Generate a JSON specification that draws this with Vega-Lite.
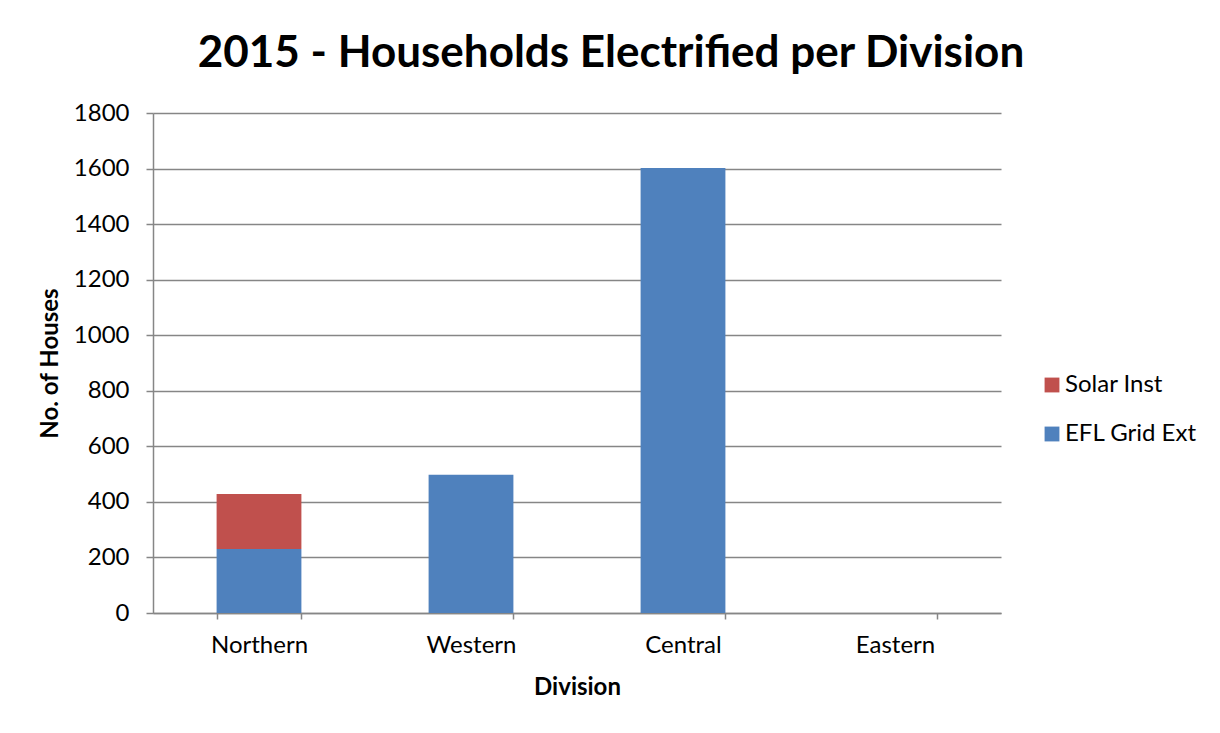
{
  "$schema": "https://vega.github.io/schema/vega-lite/v6.json",
  "width": 848,
  "height": 500,
  "autosize": {"type": "none"},
  "padding": {"left": 153, "top": 113, "right": 219, "bottom": 120},
  "background": "white",
  "title": {
    "text": "2015 - Households Electrified per Division",
    "font": "Lato",
    "fontSize": 44,
    "fontWeight": "bold",
    "color": "#000000",
    "anchor": "middle",
    "dx": 34,
    "offset": 25
  },
  "data": {
    "values": [
      {"division": "Northern", "type": "EFL Grid Ext", "houses": 230, "ord": 1},
      {"division": "Northern", "type": "Solar Inst", "houses": 198, "ord": 2},
      {"division": "Western", "type": "EFL Grid Ext", "houses": 498, "ord": 1},
      {"division": "Western", "type": "Solar Inst", "houses": 0, "ord": 2},
      {"division": "Central", "type": "EFL Grid Ext", "houses": 1602, "ord": 1},
      {"division": "Central", "type": "Solar Inst", "houses": 0, "ord": 2},
      {"division": "Eastern", "type": "EFL Grid Ext", "houses": 0, "ord": 1},
      {"division": "Eastern", "type": "Solar Inst", "houses": 0, "ord": 2}
    ]
  },
  "mark": {"type": "bar"},
  "encoding": {
    "x": {
      "field": "division",
      "type": "nominal",
      "sort": ["Northern", "Western", "Central", "Eastern"],
      "scale": {"paddingInner": 0.6, "paddingOuter": 0.3},
      "axis": {
        "title": "Division",
        "labelAngle": 0,
        "tickBand": "extent",
        "labelPadding": 14,
        "titlePadding": 18
      }
    },
    "y": {
      "field": "houses",
      "type": "quantitative",
      "stack": "zero",
      "scale": {"domain": [0, 1800], "nice": false},
      "axis": {
        "title": "No. of Houses",
        "format": "d",
        "values": [0, 200, 400, 600, 800, 1000, 1200, 1400, 1600, 1800],
        "labelPadding": 17,
        "tickSize": 7,
        "titlePadding": 11
      }
    },
    "color": {
      "field": "type",
      "type": "nominal",
      "scale": {"domain": ["Solar Inst", "EFL Grid Ext"], "range": ["#C0504D", "#4F81BD"]},
      "legend": {
        "title": null,
        "orient": "none",
        "legendX": 887,
        "legendY": 260,
        "symbolType": "square",
        "symbolSize": 220,
        "symbolStrokeWidth": 0,
        "rowPadding": 25,
        "labelFontSize": 24,
        "labelFont": "Lato",
        "labelColor": "#000000",
        "labelOffset": 1
      }
    },
    "order": {"field": "ord", "type": "quantitative"}
  },
  "config": {
    "view": {"stroke": null},
    "axis": {
      "labelFont": "Lato",
      "labelFontSize": 24,
      "labelColor": "#000000",
      "titleFont": "Lato",
      "titleFontSize": 24,
      "titleFontWeight": "bold",
      "titleColor": "#000000",
      "domainColor": "#868686",
      "tickColor": "#868686",
      "gridColor": "#868686",
      "domainWidth": 1.5,
      "tickWidth": 1.5,
      "gridWidth": 1.5,
      "tickSize": 6
    },
    "axisX": {"grid": false},
    "axisY": {"grid": true}
  }
}
